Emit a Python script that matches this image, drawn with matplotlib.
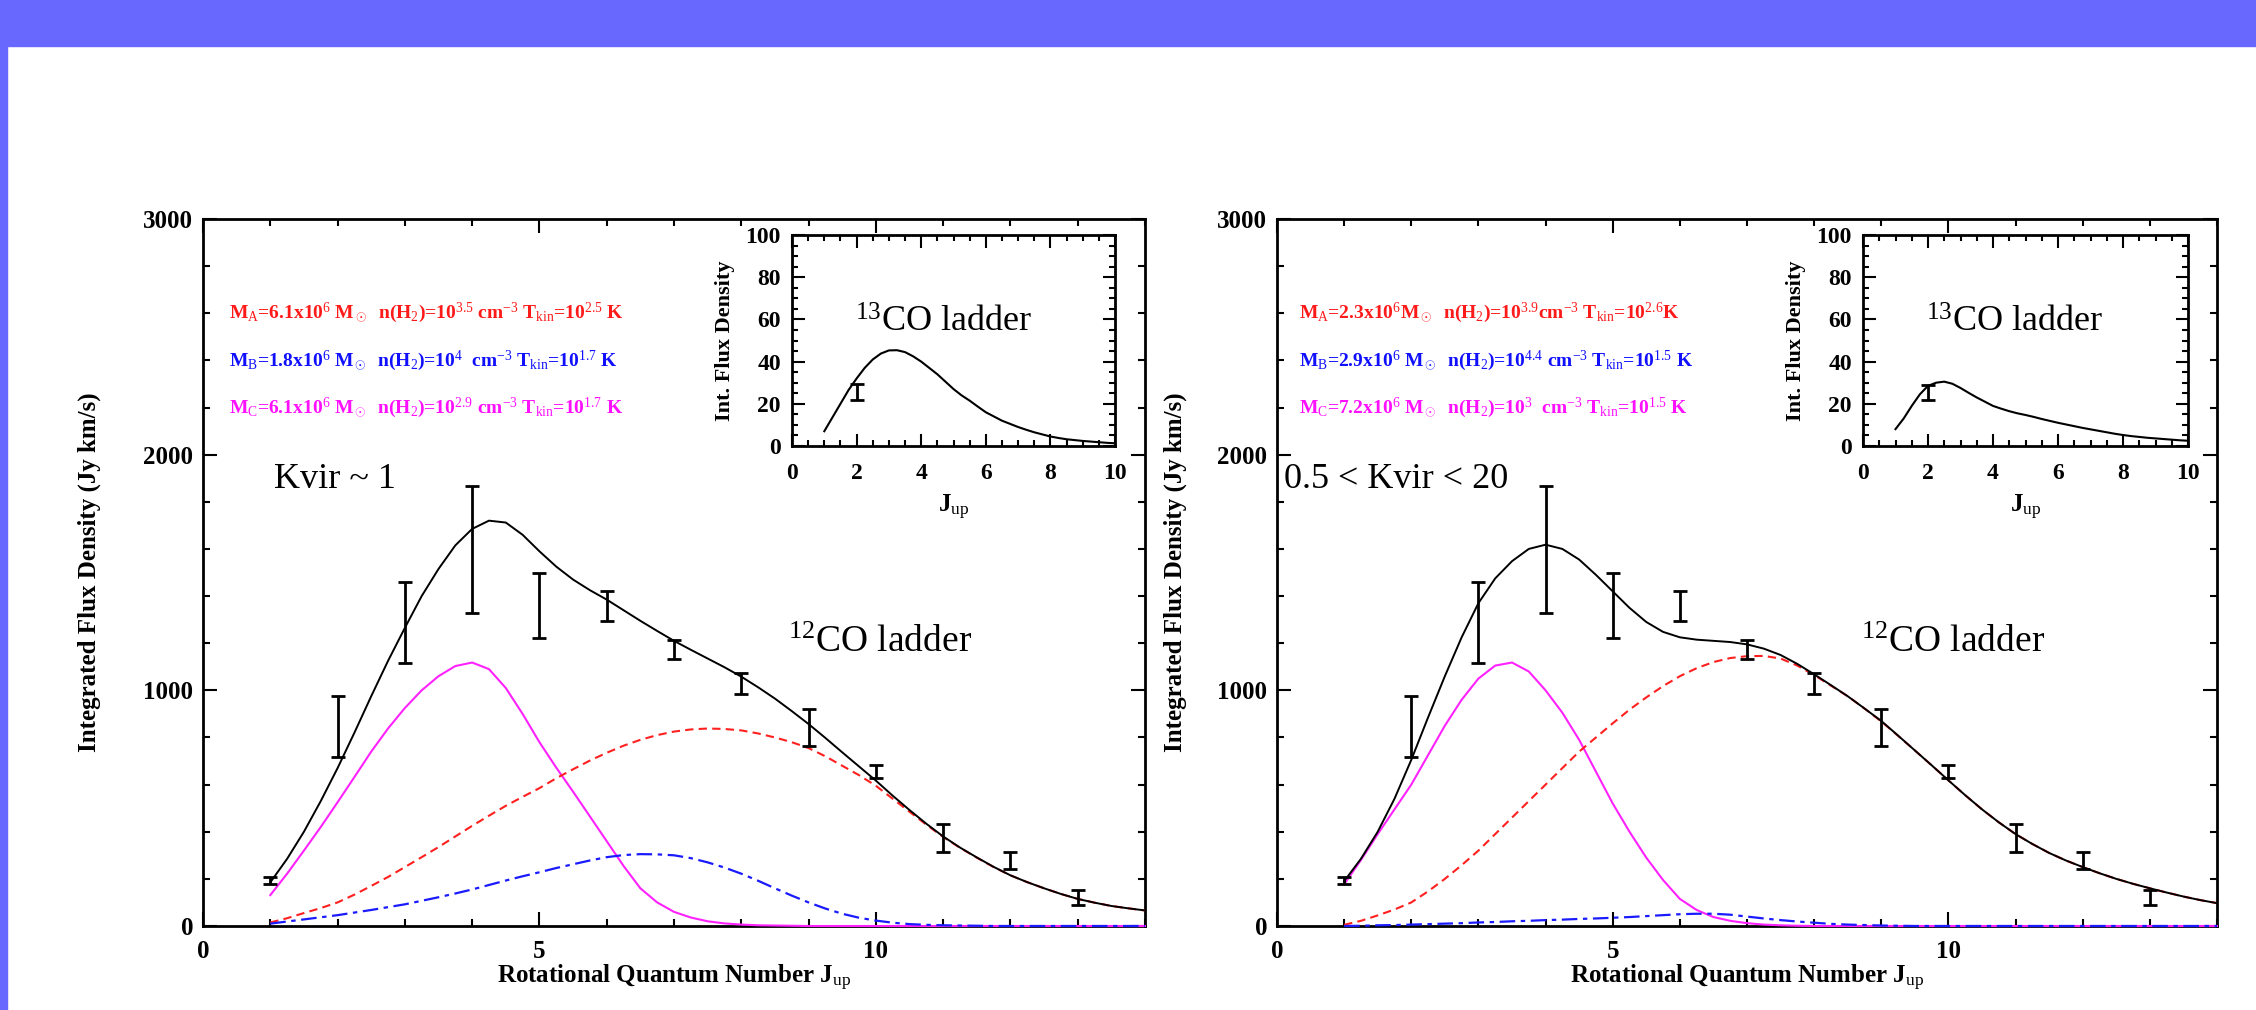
import matplotlib
matplotlib.use("Agg")
import matplotlib.pyplot as plt
from matplotlib.patches import Rectangle
from matplotlib.ticker import MultipleLocator

plt.rcParams['font.family'] = ['Liberation Serif', 'DejaVu Serif']
plt.rcParams['mathtext.fontset'] = 'custom'
plt.rcParams['mathtext.rm'] = 'Liberation Serif'
plt.rcParams['mathtext.it'] = 'Liberation Serif:italic'
plt.rcParams['mathtext.bf'] = 'Liberation Serif:bold'

# --- 12CO observations (same in both panels) ---
j_obs = [1, 2, 3, 4, 5, 6, 7, 8, 9, 10, 11, 12, 13]
flux_obs = [195, 846, 1288, 1597, 1360, 1358, 1172, 1028, 841, 654, 372, 278, 120]
flux_err = [15, 128, 173, 269, 140, 62, 40, 44, 79, 28, 60, 35, 32]

# --- model curves, every 0.25 in J (1 .. 14) ---
j_model = [1, 1.25, 1.5, 1.75, 2, 2.25, 2.5, 2.75, 3, 3.25, 3.5, 3.75,
           4, 4.25, 4.5, 4.75, 5, 5.25, 5.5, 5.75, 6, 6.25, 6.5, 6.75,
           7, 7.25, 7.5, 7.75, 8, 8.25, 8.5, 8.75, 9, 9.25, 9.5, 9.75,
           10, 10.25, 10.5, 10.75, 11, 11.25, 11.5, 11.75, 12, 12.25, 12.5, 12.75,
           13, 13.25, 13.5, 13.75, 14]

left_total = [185, 285, 400, 530, 670, 820, 975, 1125, 1265, 1400, 1515, 1615,
              1685, 1720, 1712, 1660, 1590, 1525, 1470, 1425, 1385, 1340, 1295, 1252,
              1210, 1172, 1135, 1098, 1058, 1013, 965, 912, 857, 798, 737, 677,
              617, 553, 492, 434, 380, 333, 291, 251, 215, 186, 160, 136,
              115, 99, 85, 75, 66]
left_comp_a = [15, 33, 55, 76, 100, 133, 170, 208, 250, 292, 335, 380,
               425, 468, 510, 548, 585, 627, 665, 702, 735, 765, 790, 810,
               825, 834, 838, 836, 830, 817, 800, 780, 755, 720, 680, 640,
               595, 540, 485, 430, 378, 332, 290, 250, 215, 186, 160, 136,
               115, 99, 85, 75, 66]
left_comp_b = [10, 19, 28, 37, 46, 57, 68, 80, 92, 107, 122, 138,
               155, 174, 193, 211, 228, 246, 262, 278, 292, 301, 305, 304,
               300, 288, 270, 248, 222, 192, 160, 129, 100, 74, 52, 35,
               23, 14, 8, 5, 3, 2, 1, 0, 0, 0, 0, 0,
               0, 0, 0, 0, 0]
left_comp_c = [131, 222, 320, 420, 525, 632, 740, 838, 925, 1000, 1060, 1103,
               1118, 1090, 1010, 900, 780, 672, 570, 465, 360, 255, 160, 100,
               60, 36, 20, 11, 6, 3, 2, 1, 0, 0, 0, 0,
               0, 0, 0, 0, 0, 0, 0, 0, 0, 0, 0, 0,
               0, 0, 0, 0, 0]

right_total = [190, 285, 400, 540, 705, 885, 1060, 1225, 1370, 1475, 1548, 1600,
               1618, 1600, 1555, 1490, 1420, 1350, 1290, 1248, 1225, 1215, 1210, 1205,
               1195, 1177, 1150, 1112, 1068, 1022, 975, 923, 870, 808, 745, 682,
               618, 555, 495, 440, 390, 348, 310, 278, 250, 224, 200, 179,
               160, 142, 125, 110, 97]
right_comp_a = [5, 22, 45, 70, 100, 147, 200, 258, 320, 390, 460, 530,
                600, 670, 740, 800, 860, 918, 970, 1018, 1060, 1094, 1120, 1137,
                1145, 1146, 1135, 1105, 1065, 1020, 975, 923, 868, 807, 745, 682,
                618, 555, 495, 440, 390, 348, 310, 278, 250, 224, 200, 179,
                160, 142, 125, 110, 97]
right_comp_b = [0, 1, 3, 4, 6, 8, 10, 12, 15, 17, 20, 22,
                25, 27, 30, 32, 35, 38, 42, 46, 50, 52, 52, 48,
                40, 32, 25, 19, 14, 9, 6, 4, 2, 1, 0, 0,
                0, 0, 0, 0, 0, 0, 0, 0, 0, 0, 0, 0,
                0, 0, 0, 0, 0]
right_comp_c = [177, 280, 390, 495, 600, 725, 850, 960, 1050, 1105, 1118, 1080,
                1000, 905, 790, 655, 520, 400, 290, 195, 115, 68, 38, 22,
                12, 6, 3, 1, 0, 0, 0, 0, 0, 0, 0, 0,
                0, 0, 0, 0, 0, 0, 0, 0, 0, 0, 0, 0,
                0, 0, 0, 0, 0]

# --- 13CO insets (J 1 .. 10 every 0.25) ---
j_inset = [1, 1.25, 1.5, 1.75, 2, 2.25, 2.5, 2.75, 3, 3.25, 3.5, 3.75,
           4, 4.25, 4.5, 4.75, 5, 5.25, 5.5, 5.75, 6, 6.25, 6.5, 6.75,
           7, 7.25, 7.5, 7.75, 8, 8.25, 8.5, 8.75, 9, 9.25, 9.5, 9.75, 10]
left_13co = [7, 13.5, 20, 26.5, 32, 37, 41, 43.8, 45.3, 45.4, 44.5, 42.5,
             40, 37, 34, 30.5, 27, 24, 21.5, 18.7, 16, 14, 12, 10.5,
             9, 7.7, 6.5, 5.5, 4.5, 3.8, 3.2, 2.8, 2.4, 2.1, 1.8, 1.5, 1.3]
right_13co = [8, 13, 19, 24.5, 28.5, 30, 30.5, 29.5, 27.5, 25.2, 23, 21,
              19, 17.7, 16.5, 15.5, 14.7, 13.8, 12.8, 11.9, 11, 10.2, 9.4, 8.6,
              7.9, 7.2, 6.5, 5.8, 5.2, 4.7, 4.3, 3.9, 3.6, 3.3, 3.0, 2.7, 2.5]
j_obs13 = [2]
left_obs13 = [25.6]
left_err13 = [3.8]
right_obs13 = [25.3]
right_err13 = [3.5]

left_params = [
    r"M$_\mathrm{A}$=6.1x10$^{6}$ M$_\odot$  n(H$_2$)=10$^{3.5}$ cm$^{-3}$ T$_\mathrm{kin}$=10$^{2.5}$ K",
    r"M$_\mathrm{B}$=1.8x10$^{6}$ M$_\odot$  n(H$_2$)=10$^{4}$  cm$^{-3}$ T$_\mathrm{kin}$=10$^{1.7}$ K",
    r"M$_\mathrm{C}$=6.1x10$^{6}$ M$_\odot$  n(H$_2$)=10$^{2.9}$ cm$^{-3}$ T$_\mathrm{kin}$=10$^{1.7}$ K",
]
right_params = [
    r"M$_\mathrm{A}$=2.3x10$^{6}$M$_\odot$  n(H$_2$)=10$^{3.9}$cm$^{-3}$ T$_\mathrm{kin}$=10$^{2.6}$K",
    r"M$_\mathrm{B}$=2.9x10$^{6}$ M$_\odot$  n(H$_2$)=10$^{4.4}$ cm$^{-3}$ T$_\mathrm{kin}$=10$^{1.5}$ K",
    r"M$_\mathrm{C}$=7.2x10$^{6}$ M$_\odot$  n(H$_2$)=10$^{3}$  cm$^{-3}$ T$_\mathrm{kin}$=10$^{1.5}$ K",
]
param_colors = ['#ff1a1a', '#1010ff', '#ff10ff']


def style_axes(ax, big=True):
    for s in ax.spines.values():
        s.set_linewidth(2.0)
    ax.tick_params(which='both', direction='in', top=True, right=True, width=1.5)
    if big:
        ax.tick_params(which='major', length=10, labelsize=18, pad=10)
        ax.tick_params(which='minor', length=5)
        ax.tick_params(axis='y', pad=7)
    else:
        ax.tick_params(which='major', length=9, labelsize=17, pad=12)
        ax.tick_params(which='minor', length=4.5)
        ax.tick_params(axis='y', pad=8)
    for lab in ax.get_xticklabels() + ax.get_yticklabels():
        lab.set_fontweight('bold')


def draw_panel(fig, rect, inset_rect, total, comp_a, comp_b, comp_c,
               co13, obs13, err13, params, kvir_text, kvir_x, param_x, ylab_x):
    ax = fig.add_axes(rect)
    ax.plot(j_model, comp_c, color='#ff22ff', lw=1.5, zorder=3, clip_on=False)
    ax.plot(j_model, comp_a, color='#ff2020', lw=1.5, ls=(0, (4, 2.5)), zorder=3, clip_on=False)
    ax.plot(j_model, comp_b, color='#1a1aff', lw=1.6, ls=(0, (7, 2.5, 2, 2.5)), zorder=3, clip_on=False)
    ax.plot(j_model, total, color='black', lw=1.4, zorder=4)
    ax.errorbar(j_obs, flux_obs, yerr=flux_err, fmt='none', ecolor='black',
                elinewidth=2, capsize=5, capthick=2, zorder=5)
    ax.set_xlim(0, 14)
    ax.set_ylim(0, 3000)
    ax.xaxis.set_major_locator(MultipleLocator(5))
    ax.xaxis.set_minor_locator(MultipleLocator(1))
    ax.yaxis.set_major_locator(MultipleLocator(1000))
    ax.yaxis.set_minor_locator(MultipleLocator(200))
    style_axes(ax, big=True)
    ax.set_xlabel(r"Rotational Quantum Number J$_\mathrm{up}$", fontsize=18, fontweight='bold')
    ax.set_ylabel("Integrated Flux Density (Jy km/s)", fontsize=18, fontweight='bold')
    ax.xaxis.set_label_coords(0.5, -0.052)
    ax.yaxis.set_label_coords(ylab_x, 0.5)

    for txt, yv, col in zip(params, [2600, 2400, 2200], param_colors):
        ax.text(param_x, yv, txt, color=col, fontsize=14, fontweight='bold',
                ha='left', va='center')
    ax.text(kvir_x, 1896, kvir_text, fontsize=26, ha='left', va='center')
    ax.text(8.7, 1200, r"$^{12}$CO ladder", fontsize=27, ha='left', va='center')

    ins = fig.add_axes(inset_rect)
    ins.plot(j_inset, co13, color='black', lw=1.5)
    ins.errorbar(j_obs13, obs13, yerr=err13, fmt='none', ecolor='black',
                 elinewidth=2, capsize=5, capthick=2)
    ins.set_xlim(0, 10)
    ins.set_ylim(0, 100)
    ins.xaxis.set_major_locator(MultipleLocator(2))
    ins.xaxis.set_minor_locator(MultipleLocator(0.5))
    ins.yaxis.set_major_locator(MultipleLocator(20))
    ins.yaxis.set_minor_locator(MultipleLocator(5))
    style_axes(ins, big=False)
    ins.set_xlabel(r"J$_\mathrm{up}$", fontsize=18, fontweight='bold')
    ins.set_ylabel("Int. Flux Density", fontsize=16, fontweight='bold')
    ins.xaxis.set_label_coords(0.5, -0.22)
    ins.yaxis.set_label_coords(-0.175, 0.5)
    ins.text(1.95, 58, r"$^{13}$CO ladder", fontsize=26, ha='left', va='center')
    return ax, ins


fig = plt.figure(figsize=(22.56, 10.10), dpi=100)
fig.patches.append(Rectangle((0, 1 - 46 / 1010), 1, 46 / 1010, transform=fig.transFigure,
                             color='#6868ff', zorder=0))
fig.patches.append(Rectangle((0, 0), 7 / 2256, 1, transform=fig.transFigure,
                             color='#6868ff', zorder=0))

draw_panel(fig, [203 / 2256, 84 / 1010, 942 / 2256, 707 / 1010],
           [792 / 2256, 564 / 1010, 323 / 2256, 211 / 1010],
           left_total, left_comp_a, left_comp_b, left_comp_c,
           left_13co, left_obs13, left_err13, left_params, "Kvir ~ 1", 1.05, 0.39, -0.108)
draw_panel(fig, [1277 / 2256, 84 / 1010, 940 / 2256, 707 / 1010],
           [1863 / 2256, 564 / 1010, 325 / 2256, 211 / 1010],
           right_total, right_comp_a, right_comp_b, right_comp_c,
           right_13co, right_obs13, right_err13, right_params, "0.5 < Kvir < 20", 0.11, 0.33, -0.096)

fig.savefig("out.png", dpi=100)
